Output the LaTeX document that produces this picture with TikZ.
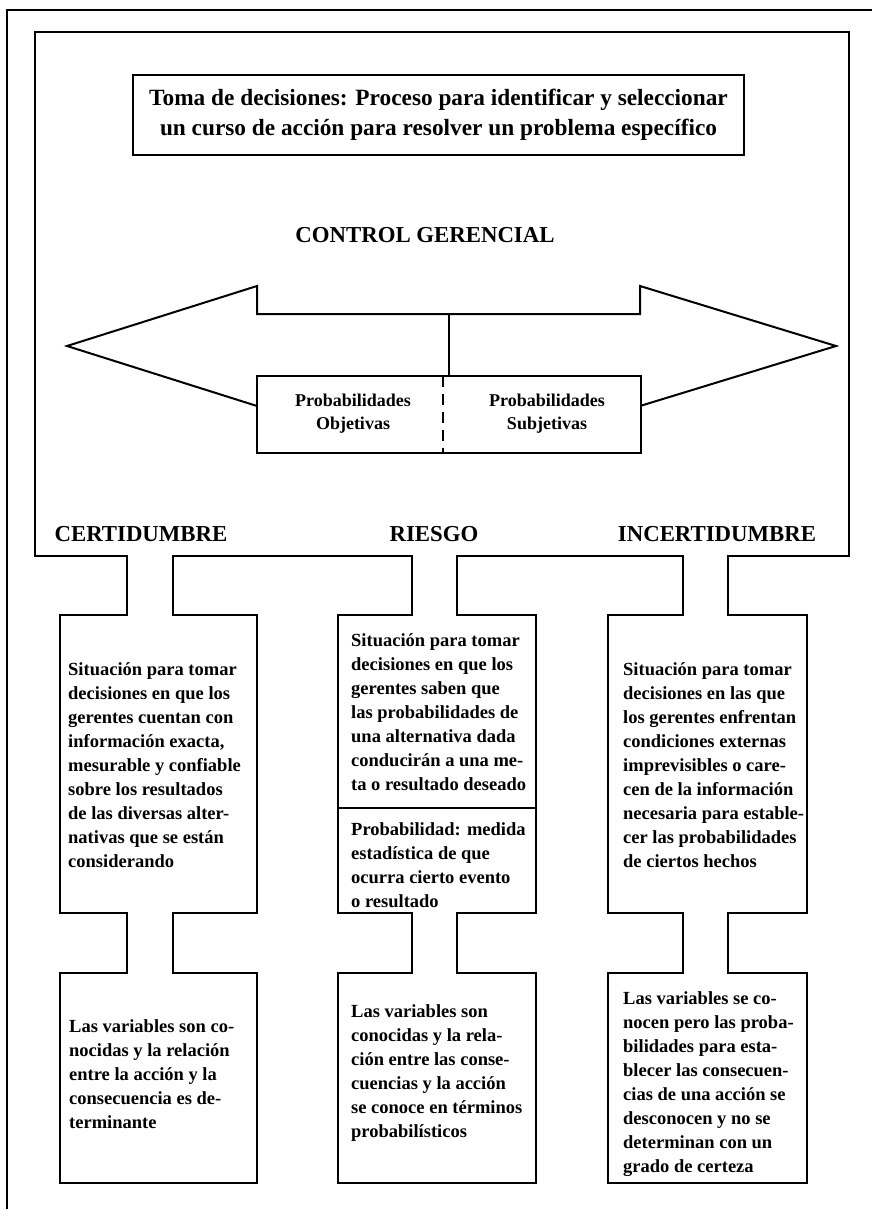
\documentclass[tikz,border=0pt]{standalone}
\usepackage{fontspec}
\setmainfont{Liberation Serif}
\usetikzlibrary{calc}

% opens the gap between two stacked panels and draws the two walls of the stem
\newcommand\joinpanels[4]{%
  \fill[white] ($(#1 |- #3.south)+(1.3,-1.3)$) rectangle ($(#2 |- #4.north)+(-1.3,1.3)$);
  \draw[stemline] (#1 |- #3.south) -- (#1 |- #4.north);
  \draw[stemline] (#2 |- #3.south) -- (#2 |- #4.north);
}

\begin{document}
\begin{tikzpicture}[x=1pt, y=-1pt,
  framerule/.style={line width=2pt},
  stemline/.style={line width=2.4pt},
  panel/.style={draw, line width=2.4pt, fill=white, rectangle, inner sep=0pt, outer sep=0pt},
  slab/.style={panel, anchor=north west},
  boxtext/.style={font=\fontsize{18.5}{24}\selectfont\bfseries, align=left, anchor=west, inner sep=0pt},
  headtext/.style={font=\fontsize{23.3}{30}\selectfont\bfseries, align=center, inner sep=0pt},
  labeltext/.style={font=\fontsize{22.8}{28}\selectfont\bfseries, inner sep=0pt},
  probtext/.style={font=\fontsize{18}{23}\selectfont\bfseries, align=center, inner sep=0pt},
  arrowline/.style={line width=2pt, line join=miter},
  dashline/.style={line width=2pt, dash pattern=on 11pt off 7pt},
]
\useasboundingbox (0,0) rectangle (872,1209);

% page frame
\coordinate (frameR) at (872,10);
\coordinate (frameC) at (7,10);
\coordinate (frameB) at (7,1209);
\draw[framerule] (frameR) -- (frameC) -- (frameB);

% main panel
\node[slab, minimum width=814pt, minimum height=524pt] (main) at (35,32) {};

% definition
\node[panel, headtext, minimum width=611pt, minimum height=80pt] (def) at (438.5,115)
  {Toma de decisiones: Proceso para identificar y seleccionar\\un curso de acción para resolver un problema específico};

\node[labeltext] (ctrl) at (425,235) {CONTROL GERENCIAL};

% double arrow
\draw[arrowline] (67,346) -- (257,286) -- (257,314) -- (640,314) -- (640,286) -- (836,346)
  -- (640,406) -- (640,376) -- (257,376) -- (257,406) -- cycle;

% probabilities box
\node[slab, minimum width=384pt, minimum height=77pt] (prob) at (257,376) {};
\coordinate (hub) at (449,314);
\draw[arrowline] (hub) -- (hub |- prob.north);
\coordinate (split) at (443,376);
\draw[dashline] (split) -- (split |- prob.south);
\node[probtext] (obj) at (353,414) {Probabilidades\\Objetivas};
\node[probtext] (subj) at (547,414) {Probabilidades\\Subjetivas};

% column headings
\node[labeltext] (cert) at (141,534) {CERTIDUMBRE};
\node[labeltext] (risk) at (434,534) {RIESGO};
\node[labeltext] (unc) at (717,534) {INCERTIDUMBRE};

% column panels
\node[slab, minimum width=197pt, minimum height=298pt] (certA) at (60,615) {};
\node[slab, minimum width=197pt, minimum height=210pt] (certB) at (60,973) {};
\node[slab, minimum width=198pt, minimum height=193pt] (riskA) at (338,615) {};
\node[slab, minimum width=198pt, minimum height=105pt] (riskM) at (338,808) {};
\node[slab, minimum width=198pt, minimum height=210pt] (riskB) at (338,973) {};
\node[slab, minimum width=199pt, minimum height=298pt] (uncA) at (608,615) {};
\node[slab, minimum width=199pt, minimum height=210pt] (uncB) at (608,973) {};

% stems
\coordinate (c1) at (127,0); \coordinate (c2) at (173,0);
\coordinate (r1) at (412,0); \coordinate (r2) at (457,0);
\coordinate (u1) at (683,0); \coordinate (u2) at (728,0);
\joinpanels{c1}{c2}{main}{certA}
\joinpanels{c1}{c2}{certA}{certB}
\joinpanels{r1}{r2}{main}{riskA}
\joinpanels{r1}{r2}{riskM}{riskB}
\joinpanels{u1}{u2}{main}{uncA}
\joinpanels{u1}{u2}{uncA}{uncB}

% panel texts
\node[boxtext] (certAt) at (68,765) {Situación para tomar\\decisiones en que los\\gerentes cuentan con\\información exacta,\\mesurable y confiable\\sobre los resultados\\de las diversas alter-\\nativas que se están\\considerando};
\node[boxtext] (certBt) at (69,1074) {Las variables son co-\\nocidas y la relación\\entre la acción y la\\consecuencia es de-\\terminante};
\node[boxtext] (riskAt) at (351,712) {Situación para tomar\\decisiones en que los\\gerentes saben que\\las probabilidades de\\una alternativa dada\\conducirán a una me-\\ta o resultado deseado};
\node[boxtext] (riskMt) at (351,865) {Probabilidad: medida\\estadística de que\\ocurra cierto evento\\o resultado};
\node[boxtext] (riskBt) at (351,1073) {Las variables son\\conocidas y la rela-\\ción entre las conse-\\cuencias y la acción\\se conoce en términos\\probabilísticos};
\node[boxtext] (uncAt) at (623,765) {Situación para tomar\\decisiones en las que\\los gerentes enfrentan\\condiciones externas\\imprevisibles o care-\\cen de la información\\necesaria para estable-\\cer las probabilidades\\de ciertos hechos};
\node[boxtext] (uncBt) at (623,1084) {Las variables se co-\\nocen pero las proba-\\bilidades para esta-\\blecer las consecuen-\\cias de una acción se\\desconocen y no se\\determinan con un\\grado de certeza};
\end{tikzpicture}
\end{document}
